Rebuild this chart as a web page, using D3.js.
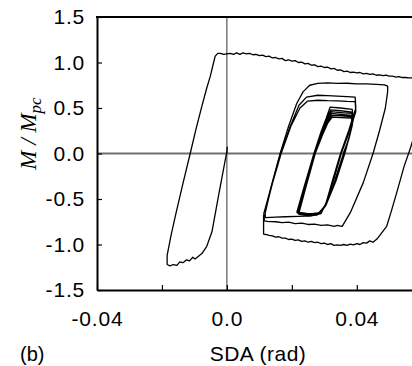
<!DOCTYPE html>
<html>
<head>
<meta charset="utf-8">
<script src="https://cdn.jsdelivr.net/npm/d3@7"></script>
<style>
  body { margin: 0; background: #fff; }
  text { font-family: "Liberation Sans", Arial, sans-serif; }
</style>
</head>
<body>
<div id="chart"></div>
<script>
// tick labels
var xTicks = [-0.04, -0.02, 0, 0.02, 0.04];
var xTickLabels = ["-0.04", "", "0.0", "", "0.04"];
var yTicks = [1.5, 1.0, 0.5, 0.0, -0.5, -1.0, -1.5];
var yTickLabels = ["1.5", "1.0", "0.5", "0.0", "-0.5", "-1.0", "-1.5"];

// first cycle: push negative, then big positive excursion (SDA, M/Mpc)
var firstCycle = [
  [0, 0], [0.0001, 0.07], [0, 0.02], [-0.0005, -0.07], [-0.0025, -0.45], [-0.0046, -0.86],
  [-0.0062, -1.02], [-0.0077, -1.1], [-0.0098, -1.16], [-0.0105, -1.14], [-0.0115, -1.18],
  [-0.0125, -1.17], [-0.0135, -1.2], [-0.0145, -1.19], [-0.0154, -1.23], [-0.0165, -1.22],
  [-0.0175, -1.235], [-0.0184, -1.22], [-0.0184, -1.12], [-0.0172, -0.9], [-0.0159, -0.69],
  [-0.0136, -0.34], [-0.0113, 0], [-0.0095, 0.27], [-0.0077, 0.52], [-0.0062, 0.72],
  [-0.0051, 0.85], [-0.0043, 0.97], [-0.0036, 1.07], [-0.0028, 1.1], [-0.002, 1.1],
  [-0.001, 1.09], [0, 1.095], [0.001, 1.1], [0.002, 1.09], [0.003, 1.105], [0.004, 1.09],
  [0.005, 1.105], [0.006, 1.095], [0.007, 1.1], [0.008, 1.085], [0.009, 1.09], [0.010, 1.075],
  [0.011, 1.08], [0.012, 1.065], [0.013, 1.07], [0.014, 1.05], [0.015, 1.055], [0.016, 1.04],
  [0.017, 1.045], [0.018, 1.02], [0.019, 1.03], [0.020, 1.015], [0.021, 1.02], [0.022, 1.0],
  [0.023, 1.005], [0.024, 0.985], [0.025, 0.99], [0.026, 0.97], [0.027, 0.975], [0.028, 0.955],
  [0.029, 0.96], [0.030, 0.945], [0.031, 0.95], [0.032, 0.93], [0.033, 0.935], [0.034, 0.915],
  [0.035, 0.92], [0.036, 0.9], [0.037, 0.905], [0.038, 0.89], [0.039, 0.895], [0.040, 0.885],
  [0.041, 0.89], [0.042, 0.875], [0.043, 0.88], [0.044, 0.87], [0.045, 0.875], [0.046, 0.86],
  [0.047, 0.865], [0.048, 0.855], [0.049, 0.86], [0.050, 0.85], [0.051, 0.85], [0.052, 0.84],
  [0.053, 0.845], [0.054, 0.835], [0.055, 0.835], [0.056, 0.83], [0.057, 0.83], [0.060, 0.82],
  [0.063, 0.5], [0.0585, 0.3], [0.0567, 0.08], [0.0545, -0.15], [0.0523, -0.43], [0.0505, -0.65],
  [0.0492, -0.8], [0.0462, -0.94], [0.045, -0.975], [0.044, -0.96], [0.043, -0.985], [0.042, -0.98],
  [0.041, -1.0], [0.040, -0.99], [0.039, -1.005], [0.038, -0.995], [0.037, -1.01], [0.036, -1.0],
  [0.035, -1.01], [0.034, -1.005], [0.033, -1.01], [0.032, -0.99], [0.031, -1.0], [0.030, -0.985],
  [0.029, -0.99], [0.028, -0.975], [0.027, -0.98], [0.026, -0.965], [0.025, -0.975], [0.024, -0.96],
  [0.023, -0.965], [0.022, -0.95], [0.021, -0.955], [0.020, -0.94], [0.019, -0.945], [0.018, -0.93],
  [0.017, -0.93], [0.016, -0.915], [0.015, -0.92], [0.014, -0.905], [0.013, -0.9], [0.012, -0.89],
  [0.0113, -0.885], [0.0113, -0.67]
];

// second cycle, amplitude ~0.05
var secondCycle = [
  [0.0113, -0.67], [0.0135, -0.38], [0.0164, 0], [0.019, 0.3], [0.0215, 0.55], [0.0235, 0.68],
  [0.0255, 0.75], [0.028, 0.77], [0.031, 0.775], [0.034, 0.77], [0.037, 0.772], [0.040, 0.765],
  [0.043, 0.765], [0.046, 0.76], [0.0485, 0.755], [0.0495, 0.74], [0.0495, 0.68], [0.0488, 0.5],
  [0.047, 0.25], [0.045, 0], [0.042, -0.32], [0.038, -0.65], [0.0355, -0.8], [0.034, -0.79],
  [0.033, -0.8], [0.031, -0.785], [0.029, -0.79], [0.027, -0.775], [0.025, -0.78], [0.023, -0.765],
  [0.021, -0.77], [0.019, -0.755], [0.017, -0.76], [0.015, -0.75], [0.0125, -0.745], [0.0115, -0.74],
  [0.0115, -0.7]
];

// two cycles at ~0.04
var middleCycles = [
  [0.0115, -0.7], [0.0138, -0.35], [0.0165, 0], [0.0195, 0.3], [0.0222, 0.53], [0.0245, 0.62],
  [0.028, 0.64], [0.031, 0.635], [0.034, 0.63], [0.037, 0.625], [0.0395, 0.62], [0.0397, 0.5],
  [0.0375, 0.25], [0.035, 0], [0.0325, -0.3], [0.0305, -0.55], [0.029, -0.66], [0.026, -0.685],
  [0.022, -0.69], [0.018, -0.695], [0.015, -0.7], [0.0118, -0.705], [0.0118, -0.64],
  [0.014, -0.33], [0.0167, 0], [0.0197, 0.3], [0.0225, 0.5], [0.0248, 0.575], [0.028, 0.585],
  [0.031, 0.58], [0.034, 0.578], [0.037, 0.572], [0.0395, 0.57], [0.0397, 0.46], [0.0375, 0.22],
  [0.0352, 0], [0.0328, -0.3], [0.0305, -0.55], [0.029, -0.65], [0.026, -0.665], [0.0215, -0.65]
];

// small cycles
var innerCycles = [
  [0.0215, -0.65], [0.0235, -0.4], [0.0268, 0], [0.029, 0.24], [0.0305, 0.38], [0.0318, 0.51],
  [0.035, 0.5], [0.0386, 0.485], [0.0389, 0.38], [0.0378, 0.2], [0.0363, 0], [0.0336, -0.3],
  [0.0306, -0.56], [0.0282, -0.655], [0.025, -0.665], [0.0217, -0.645],
  [0.0237, -0.4], [0.0269, 0], [0.0291, 0.23], [0.0306, 0.37], [0.032, 0.48],
  [0.035, 0.47], [0.0386, 0.455], [0.0388, 0.36], [0.0377, 0.19], [0.0362, 0], [0.0335, -0.3],
  [0.0305, -0.57], [0.0281, -0.66], [0.025, -0.67], [0.0218, -0.65],
  [0.0238, -0.4], [0.027, 0], [0.0292, 0.22], [0.0307, 0.36], [0.0321, 0.46],
  [0.035, 0.45], [0.0385, 0.44], [0.0387, 0.34], [0.0376, 0.18], [0.0361, 0], [0.0334, -0.3],
  [0.0304, -0.57], [0.028, -0.665], [0.025, -0.675], [0.0219, -0.655],
  [0.0239, -0.4], [0.027, 0], [0.0292, 0.21], [0.0308, 0.35], [0.0322, 0.44],
  [0.035, 0.43], [0.0385, 0.42], [0.0387, 0.33], [0.0376, 0.17], [0.036, 0], [0.0333, -0.3],
  [0.0303, -0.58], [0.028, -0.67], [0.025, -0.68], [0.022, -0.66],
  [0.024, -0.4], [0.0271, 0], [0.0293, 0.2], [0.0309, 0.34], [0.0323, 0.42],
  [0.035, 0.415], [0.0384, 0.405], [0.0386, 0.32], [0.0375, 0.16], [0.0359, 0], [0.0332, -0.3],
  [0.0302, -0.58], [0.0279, -0.675], [0.025, -0.685], [0.0221, -0.665],
  [0.0241, -0.4], [0.0272, 0], [0.0294, 0.2], [0.031, 0.33], [0.0324, 0.4],
  [0.035, 0.395], [0.0384, 0.39], [0.0386, 0.31], [0.0375, 0.15], [0.0358, 0]
];

var margin = {top: 17, right: 0, bottom: 76, left: 97},
    width = 412 - margin.left - margin.right,
    height = 366 - margin.top - margin.bottom;

var svg = d3.select("#chart")
  .append("svg")
    .attr("width", 412)
    .attr("height", 366)
  .append("g")
    .attr("transform", "translate(" + margin.left + "," + margin.top + ")");

var x = d3.scaleLinear()
  .domain([-0.04, 0.057])
  .range([0, width]);

var y = d3.scaleLinear()
  .domain([-1.5, 1.5])
  .range([height, 0]);

svg.append("clipPath")
    .attr("id", "plotclip")
  .append("rect")
    .attr("width", width)
    .attr("height", height);

// zero lines
svg.append("line")
    .attr("x1", 0).attr("x2", width)
    .attr("y1", y(0)).attr("y2", y(0))
    .attr("stroke", "#707070")
    .attr("stroke-width", 2);
svg.append("line")
    .attr("x1", x(0)).attr("x2", x(0))
    .attr("y1", 0).attr("y2", height)
    .attr("stroke", "#333")
    .attr("stroke-width", 1);

var line = d3.line()
  .x(function(d) { return x(d[0]); })
  .y(function(d) { return y(d[1]); });

var curves = svg.append("g").attr("clip-path", "url(#plotclip)");
[firstCycle, secondCycle, middleCycles, innerCycles].forEach(function(c) {
  curves.append("path")
    .datum(c)
    .attr("fill", "none")
    .attr("stroke", "#000")
    .attr("stroke-width", 1.3)
    .attr("stroke-linejoin", "round")
    .attr("d", line);
});

function styleLabels(g) {
  g.select(".domain").attr("stroke-width", 2);
  g.selectAll(".tick line").attr("stroke-width", 1.2);
  g.selectAll("text").attr("font-size", 21).attr("fill", "#000")
    .style("letter-spacing", "0.8px")
    .style("font-family", "'Liberation Sans', Arial, sans-serif");
}

// axes, ticks pointing in
svg.append("g")
    .attr("transform", "translate(0," + height + ")")
    .call(d3.axisBottom(x)
      .tickValues(xTicks)
      .tickSizeInner(-5)
      .tickSizeOuter(0)
      .tickPadding(21)
      .tickFormat(function(d, i) { return xTickLabels[i]; }))
    .call(styleLabels);

svg.append("g")
    .call(d3.axisLeft(y)
      .tickValues(yTicks)
      .tickSizeInner(-5)
      .tickSizeOuter(0)
      .tickPadding(12)
      .tickFormat(function(d, i) { return yTickLabels[i]; }))
    .call(styleLabels);

// top border
svg.append("line")
    .attr("x1", -1).attr("x2", width)
    .attr("y1", 0).attr("y2", 0)
    .attr("stroke", "#000")
    .attr("stroke-width", 2);

// titles
svg.append("text")
    .attr("x", 161)
    .attr("y", 344)
    .attr("text-anchor", "middle")
    .attr("font-size", 21)
    .style("letter-spacing", "0.5px")
    .text("SDA (rad)");

svg.append("text")
    .attr("x", -77)
    .attr("y", 344)
    .attr("font-size", 20)
    .text("(b)");

var ylab = svg.append("text")
    .attr("transform", "translate(-61," + (y(0) - 20) + ") rotate(-90)")
    .attr("text-anchor", "middle")
    .style("font-family", "'Liberation Serif', 'Times New Roman', serif")
    .style("font-style", "italic")
    .attr("font-size", 23);
ylab.append("tspan").text("M / M");
ylab.append("tspan").attr("dy", 5).attr("font-size", 17).text("pc");
</script>
</body>
</html>
